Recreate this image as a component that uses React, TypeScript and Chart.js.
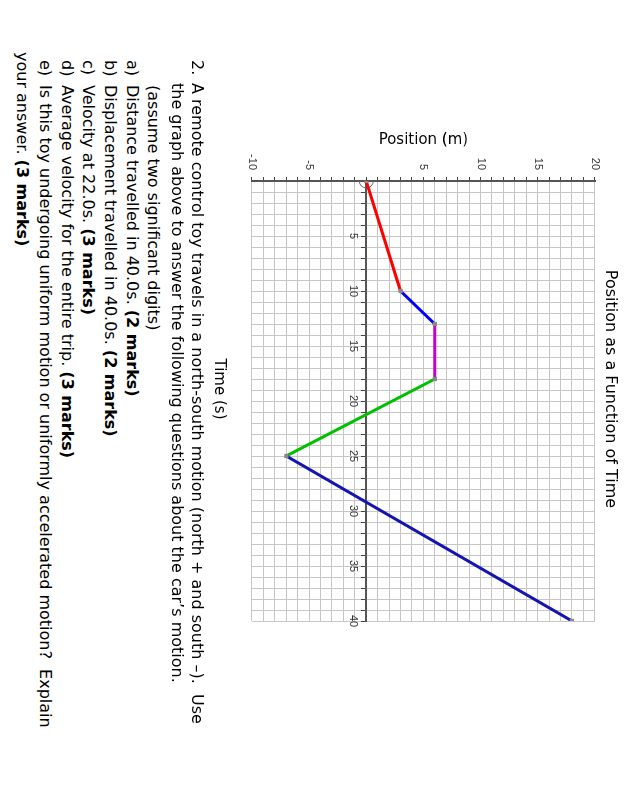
import React, { useEffect, useRef } from 'react';
import { Chart, registerables } from 'chart.js';

Chart.register(...registerables);

// ---- data ----
const timeSeconds = [0, 10, 13, 18, 25, 40];
const positionMetres = [0, 3, 6, 6, -7, 18];
const segmentColors = ['#ff0000', '#0000ff', '#c800c8', '#00c000', '#1414b4'];
const positionTickLabels = [-10, -5, 5, 10, 15, 20];
const timeTickLabels = [5, 10, 15, 20, 25, 30, 35, 40];
const positionRange = [-10, 20];
const timeRange = [0, 40];

const chartTitle = 'Position as a Function of Time';
const positionAxisTitle = 'Position (m)';
const timeAxisTitle = 'Time (s)';

const TEXT_FONT = '"DejaVu Sans", Verdana, sans-serif';
const TICK_FONT = '"Liberation Sans", Arial, sans-serif';

function PositionChart() {
  const ref = useRef<HTMLCanvasElement | null>(null);

  useEffect(() => {
    if (!ref.current) return;
    const tickFont = { family: TICK_FONT, size: 11 };
    const chart = new Chart(ref.current, {
      type: 'line',
      data: {
        datasets: [
          {
            data: timeSeconds.map((t, i) => ({ x: t, y: positionMetres[i] })),
            borderWidth: 3,
            borderColor: segmentColors[0],
            segment: {
              borderColor: (ctx: any) => segmentColors[ctx.p0DataIndex],
            },
            tension: 0,
            pointStyle: 'rect',
            pointRadius: 3,
            pointBackgroundColor: '#888888',
            pointBorderWidth: 0,
            fill: false,
          },
          {
            data: [{ x: timeSeconds[0], y: positionMetres[0] }],
            showLine: false,
            pointStyle: 'circle',
            pointRadius: 7,
            pointBorderColor: '#666666',
            pointBorderWidth: 1,
            pointBackgroundColor: 'rgba(0,0,0,0)',
          },
        ],
      },
      options: {
        animation: false,
        responsive: false,
        maintainAspectRatio: false,
        layout: { padding: { left: 127, right: 0, top: 0, bottom: 0 } },
        plugins: {
          legend: { display: false },
          tooltip: { enabled: false },
          title: {
            display: true,
            text: chartTitle,
            color: '#000000',
            font: { family: TEXT_FONT, size: 16, weight: 'normal' },
            padding: { top: 7, bottom: 6 },
          },
          subtitle: {
            display: true,
            position: 'bottom',
            text: timeAxisTitle,
            color: '#000000',
            font: { family: TEXT_FONT, size: 15, weight: 'normal' },
            padding: { top: 24, bottom: 23 },
          },
        },
        scales: {
          x: {
            type: 'linear',
            min: timeRange[0],
            max: timeRange[1],
            position: { y: 0 } as any,
            ticks: {
              stepSize: 1,
              autoSkip: false,
              maxRotation: 0,
              padding: 3,
              color: '#333333',
              font: tickFont,
              callback: (v: any) => (timeTickLabels.includes(Number(v)) ? String(v) : ''),
            },
            grid: { color: '#c6c6c6', lineWidth: 1, tickColor: '#444444', tickLength: 4 },
            border: { color: '#555555', width: 2 },
          },
          y: {
            type: 'linear',
            position: 'left',
            min: positionRange[0],
            max: positionRange[1],
            afterFit: (s: any) => {
              s.width = 54;
            },
            title: {
              display: true,
              text: positionAxisTitle,
              color: '#000000',
              font: { family: TEXT_FONT, size: 15, weight: 'normal' },
              padding: { top: 4, bottom: 4 },
            },
            ticks: {
              stepSize: 1,
              autoSkip: false,
              padding: 7,
              color: '#333333',
              font: tickFont,
              callback: (v: any) => (positionTickLabels.includes(Number(v)) ? String(v) : ''),
            },
            grid: { color: '#c6c6c6', lineWidth: 1, tickColor: '#444444', tickLength: 4 },
            border: { color: '#555555', width: 2 },
          },
          y2: {
            type: 'linear',
            position: 'right',
            min: positionRange[0],
            max: positionRange[1],
            afterFit: (s: any) => {
              s.width = 30;
            },
            ticks: { display: false },
            grid: { display: false },
            border: { display: false },
          },
        },
      } as any,
    });
    return () => chart.destroy();
  }, []);

  return (
    <canvas
      ref={ref}
      width={651}
      height={440}
      style={{ position: 'absolute', left: 0, top: 0, width: 651, height: 440 }}
    />
  );
}

const lineStyle = (center: number, left: number): React.CSSProperties => ({
  position: 'absolute',
  top: center - 10,
  left,
  height: 20,
  lineHeight: '20px',
  whiteSpace: 'nowrap',
});

export default function App() {
  return (
    <div
      style={{
        position: 'absolute',
        left: 0,
        top: 0,
        width: 627,
        height: 799,
        overflow: 'hidden',
        background: '#ffffff',
      }}
    >
      <div
        style={{
          position: 'absolute',
          left: 627,
          top: 0,
          width: 799,
          height: 627,
          transformOrigin: '0 0',
          transform: 'rotate(90deg)',
          fontFamily: TEXT_FONT,
          fontSize: 16,
          color: '#000',
        }}
      >
        <PositionChart />
        <div style={lineStyle(430, 60)}>2.</div>
        <div style={lineStyle(430, 83)}>
          A remote control toy travels in a north-south motion (north + and south –).&nbsp; Use
        </div>
        <div style={lineStyle(450, 83)}>
          the graph above to answer the following questions about the car’s motion.
        </div>
        <div style={lineStyle(474, 85)}>(assume two significant digits)</div>
        <div style={lineStyle(495, 60)}>a)</div>
        <div style={lineStyle(495, 85)}>
          Distance travelled in 40.0s. <b>(2 marks)</b>
        </div>
        <div style={lineStyle(517, 60)}>b)</div>
        <div style={lineStyle(517, 85)}>
          Displacement travelled in 40.0s. <b>(2 marks)</b>
        </div>
        <div style={lineStyle(539, 60)}>c)</div>
        <div style={lineStyle(539, 85)}>
          Velocity at 22.0s. <b>(3 marks)</b>
        </div>
        <div style={lineStyle(560, 60)}>d)</div>
        <div style={lineStyle(560, 85)}>
          Average velocity for the entire trip. <b>(3 marks)</b>
        </div>
        <div style={lineStyle(582, 60)}>e)</div>
        <div style={lineStyle(582, 85)}>
          Is this toy undergoing uniform motion or uniformly accelerated motion?&nbsp; Explain
        </div>
        <div style={lineStyle(605, 52)}>
          your answer. <b>(3 marks)</b>
        </div>
      </div>
    </div>
  );
}
